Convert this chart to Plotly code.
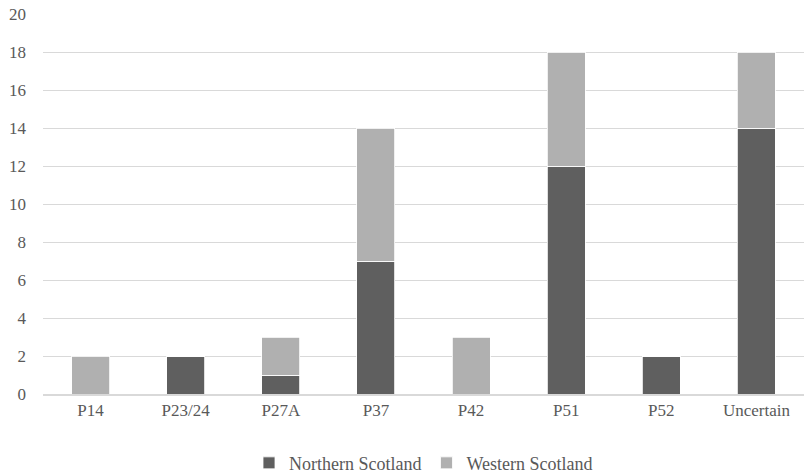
import plotly.graph_objects as go

categories = ["P14", "P23/24", "P27A", "P37", "P42", "P51", "P52", "Uncertain"]
northern = [0, 2, 1, 7, 0, 12, 2, 14]
western = [2, 0, 2, 7, 3, 6, 0, 4]
y_ticks = list(range(0, 21, 2))

fig = go.Figure()
fig.add_trace(go.Bar(
    x=categories, y=northern, name="Northern Scotland",
    marker=dict(color="#5f5f5f", line=dict(color="#ffffff", width=0.8)),
))
fig.add_trace(go.Bar(
    x=categories, y=western, name="Western Scotland",
    marker=dict(color="#b0b0b0", line=dict(color="#ffffff", width=0.8)),
))

font_family = "'Liberation Serif', 'Times New Roman', serif"
fig.update_layout(
    barmode="stack",
    bargap=0.6,
    width=804, height=476,
    margin=dict(l=43, r=0, t=14, b=82, autoexpand=False),
    paper_bgcolor="white",
    plot_bgcolor="white",
    font=dict(family=font_family, size=17, color="#595959"),
    legend=dict(
        orientation="h", x=0.5, xanchor="center", y=-0.182, yanchor="middle",
        font=dict(family=font_family, size=18, color="#595959"),
        itemwidth=30, traceorder="normal",
    ),
    xaxis=dict(
        showgrid=False, showline=True, linecolor="#d9d9d9", linewidth=1.5,
        ticks="", tickfont=dict(family=font_family, size=17),
        ticklabelstandoff=0, automargin=False,
    ),
    yaxis=dict(
        range=[0, 20], tickvals=y_ticks, showgrid=True, gridcolor="#d9d9d9",
        gridwidth=1.3, zeroline=False, ticks="",
        tickfont=dict(family=font_family, size=17),
        ticklabelstandoff=16, automargin=False,
    ),
)

fig.write_html("out.html")
